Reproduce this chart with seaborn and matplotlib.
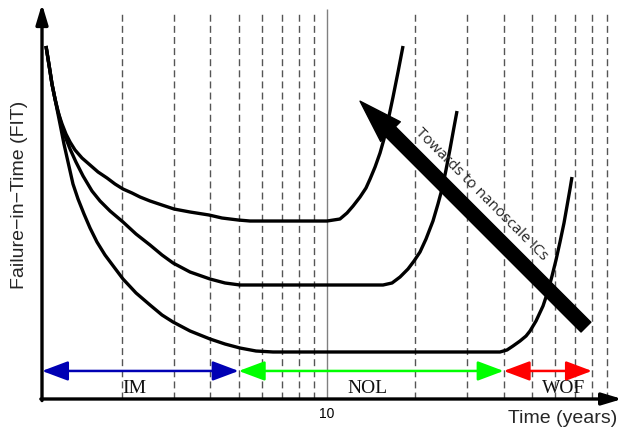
import matplotlib
matplotlib.use("Agg")
import matplotlib.pyplot as plt
from matplotlib.ticker import NullLocator
import pandas as pd
import seaborn as sns

# Bathtub curves: time in years vs failure rate (arbitrary FIT units)
years_a = [1.102, 1.120, 1.137, 1.155, 1.183, 1.211, 1.250, 1.289, 1.331, 1.384,
           1.462, 1.557, 1.658, 1.779, 1.894, 2.017, 2.165, 2.305, 2.493, 2.739,
           3.010, 3.413, 3.961, 4.386, 4.973, 5.465, 10.0, 11.07, 11.70, 12.27,
           12.96, 13.58, 14.02, 14.58, 15.16, 15.64, 16.27, 16.79, 17.46, 18.16]
fit_a = [89.37, 86.08, 83.04, 79.75, 75.95, 72.66, 69.62, 67.09, 65.06, 63.04,
         61.01, 59.24, 57.47, 55.95, 54.43, 53.16, 52.15, 51.14, 50.13, 49.11,
         48.10, 47.34, 46.58, 45.82, 45.32, 45.06, 45.06, 45.57, 47.09, 48.86,
         51.14, 53.42, 55.70, 58.73, 62.28, 65.82, 71.65, 76.46, 82.78, 89.37]

years_b = [1.102, 1.120, 1.137, 1.155, 1.183, 1.211, 1.240, 1.279, 1.331, 1.394,
           1.474, 1.581, 1.684, 1.822, 2.017, 2.234, 2.493, 2.739, 2.987, 3.413,
           3.993, 4.491, 5.051, 5.683, 15.52, 16.66, 17.74, 18.88, 19.80, 20.75,
           21.75, 22.97, 23.89, 24.66, 25.44, 26.26, 27.10, 27.74]
fit_b = [89.37, 86.08, 83.04, 79.75, 75.95, 72.91, 69.87, 66.58, 63.29, 60.00,
         56.46, 52.66, 50.13, 47.59, 44.81, 41.77, 38.99, 36.46, 34.43, 32.15,
         30.38, 29.37, 28.86, 28.86, 28.86, 29.37, 30.89, 32.91, 34.94, 37.22,
         40.51, 45.06, 49.37, 53.16, 57.97, 63.29, 68.86, 72.91]

years_c = [1.102, 1.120, 1.137, 1.155, 1.183, 1.211, 1.240, 1.269, 1.310, 1.362,
           1.417, 1.485, 1.557, 1.644, 1.751, 1.879, 2.017, 2.234, 2.493, 2.739,
           2.987, 3.413, 3.993, 4.491, 5.051, 5.728, 6.546, 38.88, 41.07, 43.05,
           45.48, 47.69, 49.20, 51.57, 54.48, 56.66, 58.47, 60.33, 62.25, 64.24,
           65.77, 67.33, 68.39]
fit_c = [89.37, 86.08, 83.04, 79.75, 75.95, 72.15, 68.35, 64.56, 60.00, 54.43,
         50.63, 46.84, 43.29, 39.75, 36.46, 33.42, 30.38, 26.84, 23.80, 21.27,
         19.49, 17.22, 15.19, 13.92, 12.91, 12.15, 11.90, 11.90, 12.41, 13.42,
         14.68, 15.95, 17.22, 19.75, 23.54, 27.34, 31.14, 35.19, 39.75, 44.56,
         48.86, 53.16, 56.20]

# Reference grid of the log time axis
grid_years = [2, 3, 4, 5, 6, 7, 8, 9, 20, 30, 40, 50, 60, 70, 80, 90]
decade_year = 10

# Life phases: infant mortality, normal operating life, wear-out failures
phase_names = ["IM", "NOL", "WOF"]
phase_edges = [1.068, 5, 40, 80]
phase_colors = ["#0000b4", "#00ff00", "#ff0000"]
phase_label_years = [2.2, 13.7, 64.2]

# Technology-scaling trend arrow
trend_tail = (76.3, 18.2)
trend_head = (12.96, 75.4)
trend_text = "Towards to nanoscale ICs"
trend_text_pos = (33.5, 52.15)

curves = pd.concat([
    pd.DataFrame({"years": years_a, "fit": fit_a, "curve": "a"}),
    pd.DataFrame({"years": years_b, "fit": fit_b, "curve": "b"}),
    pd.DataFrame({"years": years_c, "fit": fit_c, "curve": "c"}),
], ignore_index=True)

sns.set_theme(style="white")
plt.rcParams["font.family"] = ["Liberation Sans", "DejaVu Sans"]

fig = plt.figure(figsize=(6.22, 4.31), dpi=100)
ax = fig.add_axes([42 / 622, 31 / 431, 578.4 / 622, 395 / 431])
ax.set_xscale("log")
ax.set_xlim(1.068, 100)
ax.set_ylim(0, 100)

ax.vlines(grid_years, 0, 97.5, colors="#555555", linestyles=(0, (5, 3)), lw=1.0, zorder=1)
ax.vlines([decade_year], 0, 98.7, colors="#808080", lw=1.0, zorder=1)

sns.lineplot(data=curves, x="years", y="fit", units="curve", estimator=None,
             color="black", lw=2.4, ax=ax, zorder=3,
             solid_capstyle="butt", solid_joinstyle="round")

# Phase spans with double-headed arrows
for i, name in enumerate(phase_names):
    ax.annotate("", xy=(phase_edges[i + 1], 7.1), xytext=(phase_edges[i], 7.1),
                arrowprops=dict(arrowstyle="<|-|>,head_length=1.6,head_width=0.6",
                                color=phase_colors[i], lw=1.8, shrinkA=0, shrinkB=0,
                                mutation_scale=10), zorder=4)
    ax.text(phase_label_years[i], 3.0, name, ha="center", va="center",
            fontsize=14, family="Liberation Serif", color="#111111")

# Scaling trend arrow and its caption
ax.text(*trend_text_pos, trend_text, rotation=-45, rotation_mode="anchor",
        ha="center", va="center", fontsize=11, family="Open Sans", zorder=4)
ax.annotate("", xy=trend_head, xytext=trend_tail,
            arrowprops=dict(arrowstyle="simple,head_length=3.1,head_width=2.0,tail_width=1.0",
                            color="black", shrinkA=0, shrinkB=0, mutation_scale=10),
            zorder=5)

# Axes drawn as arrows
for sp in ax.spines.values():
    sp.set_visible(False)
axis_arrow = dict(arrowstyle="-|>,head_length=1.2,head_width=0.36", lw=2.4,
                  color="black", shrinkA=0, shrinkB=0, mutation_scale=10)
ax.annotate("", xy=(0, 1), xycoords="axes fraction", xytext=(0, -0.004),
            textcoords="axes fraction", arrowprops=axis_arrow, annotation_clip=False)
ax.annotate("", xy=(1.003, 0), xycoords="axes fraction", xytext=(-0.002, 0),
            textcoords="axes fraction", arrowprops=axis_arrow, annotation_clip=False)

ax.set_xticks([decade_year])
ax.set_xticklabels(["10"])
ax.xaxis.set_minor_locator(NullLocator())
ax.set_yticks([])
ax.tick_params(axis="x", length=0, pad=5, labelsize=10, colors="black")
ax.set_xlabel("")
ax.set_ylabel("")

ax.annotate("Time (years)", xy=(1, 0), xycoords="axes fraction", xytext=(-2, -7),
            textcoords="offset points", ha="right", va="top", fontsize=14)
fig.text(20 / 622, 1 - 195 / 431, "Failure\u2212in\u2212Time (FIT)", rotation=90,
         ha="center", va="center", fontsize=14)

fig.savefig("out.png", dpi=100)
